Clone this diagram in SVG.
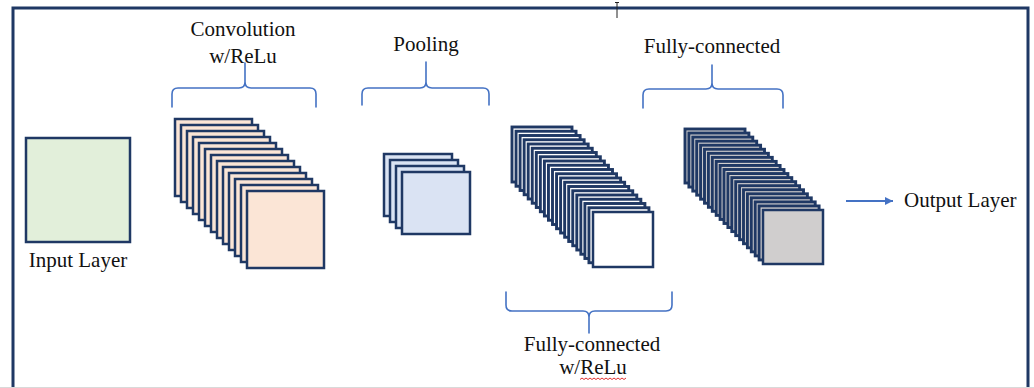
<svg xmlns="http://www.w3.org/2000/svg" width="1034" height="388" viewBox="0 0 1034 388">
  <defs>
    <style>
      .frame { fill: none; stroke: #1f3864; stroke-width: 3; }
      .lyr { stroke: #1f3864; stroke-width: 2.5; }
      .dense { stroke-width: 2.9; }
      .conv { fill: #fbe5d6; }
      .pool { fill: #dae3f3; }
      .fc1 { fill: #ffffff; }
      .fc2 { fill: #d0cece; }
      .inp { fill: #e2efda; }
      .brace { fill: none; stroke: #4472c4; stroke-width: 1.6; stroke-linecap: round; stroke-linejoin: round; }
      .lbl { font-family: "Liberation Serif", "Times New Roman", serif; font-size: 21px; fill: #111111; }
      .mid { text-anchor: middle; }
    </style>
    <marker id="arrow" viewBox="0 0 10 10" refX="10" refY="5" markerWidth="8" markerHeight="8" markerUnits="userSpaceOnUse" orient="auto">
      <path d="M0,0 L10,5 L0,10 Z" fill="#4472c4"/>
    </marker>
  </defs>

  <rect x="0" y="0" width="1034" height="388" fill="#ffffff"/>
  <path class="frame" d="M13,388 V8 H1028 V388"/>
  <line x1="0" y1="387.5" x2="1034" y2="387.5" stroke="#d9d9d9" stroke-width="1"/>
  <line x1="617" y1="2" x2="617" y2="18" stroke="#222" stroke-width="1"/>
  <line x1="615" y1="2.5" x2="619" y2="2.5" stroke="#222" stroke-width="1"/>

  <g id="input-layer">
    <rect class="lyr inp" x="26" y="138" width="104" height="104"/>
    <text class="lbl mid" x="78" y="267">Input Layer</text>
  </g>

  <g id="convolution">
    <rect class="lyr conv" x="175" y="119" width="77" height="77"/>
    <rect class="lyr conv" x="181" y="125" width="77" height="77"/>
    <rect class="lyr conv" x="187" y="131" width="77" height="77"/>
    <rect class="lyr conv" x="193" y="137" width="77" height="77"/>
    <rect class="lyr conv" x="199" y="143" width="77" height="77"/>
    <rect class="lyr conv" x="205" y="149" width="77" height="77"/>
    <rect class="lyr conv" x="211" y="155" width="77" height="77"/>
    <rect class="lyr conv" x="217" y="161" width="77" height="77"/>
    <rect class="lyr conv" x="223" y="167" width="77" height="77"/>
    <rect class="lyr conv" x="229" y="173" width="77" height="77"/>
    <rect class="lyr conv" x="235" y="179" width="77" height="77"/>
    <rect class="lyr conv" x="241" y="185" width="77" height="77"/>
    <rect class="lyr conv" x="247" y="191" width="77" height="77"/>
    <text class="lbl mid" x="243" y="36">Convolution</text>
    <text class="lbl mid" x="243" y="63">w/ReLu</text>
  </g>

  <g id="pooling">
    <rect class="lyr pool" x="384" y="154" width="68" height="62"/>
    <rect class="lyr pool" x="390" y="160" width="68" height="62"/>
    <rect class="lyr pool" x="396" y="166" width="68" height="62"/>
    <rect class="lyr pool" x="402" y="172" width="68" height="62"/>
    <text class="lbl mid" x="426" y="51">Pooling</text>
  </g>

  <g id="fully-connected-relu">
    <rect class="lyr dense fc1" x="512" y="127" width="60" height="55"/>
    <rect class="lyr dense fc1" x="516.05" y="131.25" width="60" height="55"/>
    <rect class="lyr dense fc1" x="520.1" y="135.5" width="60" height="55"/>
    <rect class="lyr dense fc1" x="524.15" y="139.75" width="60" height="55"/>
    <rect class="lyr dense fc1" x="528.2" y="144" width="60" height="55"/>
    <rect class="lyr dense fc1" x="532.25" y="148.25" width="60" height="55"/>
    <rect class="lyr dense fc1" x="536.3" y="152.5" width="60" height="55"/>
    <rect class="lyr dense fc1" x="540.35" y="156.75" width="60" height="55"/>
    <rect class="lyr dense fc1" x="544.4" y="161" width="60" height="55"/>
    <rect class="lyr dense fc1" x="548.45" y="165.25" width="60" height="55"/>
    <rect class="lyr dense fc1" x="552.5" y="169.5" width="60" height="55"/>
    <rect class="lyr dense fc1" x="556.55" y="173.75" width="60" height="55"/>
    <rect class="lyr dense fc1" x="560.6" y="178" width="60" height="55"/>
    <rect class="lyr dense fc1" x="564.65" y="182.25" width="60" height="55"/>
    <rect class="lyr dense fc1" x="568.7" y="186.5" width="60" height="55"/>
    <rect class="lyr dense fc1" x="572.75" y="190.75" width="60" height="55"/>
    <rect class="lyr dense fc1" x="576.8" y="195" width="60" height="55"/>
    <rect class="lyr dense fc1" x="580.85" y="199.25" width="60" height="55"/>
    <rect class="lyr dense fc1" x="584.9" y="203.5" width="60" height="55"/>
    <rect class="lyr dense fc1" x="588.95" y="207.75" width="60" height="55"/>
    <rect class="lyr fc1" x="593" y="212" width="60" height="55"/>
    <text class="lbl mid" x="592" y="351">Fully-connected</text>
    <text class="lbl mid" x="593" y="374">w/ReLu</text>
    <path d="M580,379.5 l2,-1.5 l2,1.5 l2,-1.5 l2,1.5 l2,-1.5 l2,1.5 l2,-1.5 l2,1.5 l2,-1.5 l2,1.5 l2,-1.5 l2,1.5 l2,-1.5 l2,1.5 l2,-1.5 l2,1.5 l2,-1.5 l2,1.5 l2,-1.5 l2,1.5 l2,-1.5 l2,1.5 l2,-1.5" fill="none" stroke="#e03030" stroke-width="1"/>
  </g>

  <g id="fully-connected">
    <rect class="lyr dense fc2" x="685" y="129" width="60" height="54"/>
    <rect class="lyr dense fc2" x="688.9" y="133.05" width="60" height="54"/>
    <rect class="lyr dense fc2" x="692.8" y="137.1" width="60" height="54"/>
    <rect class="lyr dense fc2" x="696.7" y="141.15" width="60" height="54"/>
    <rect class="lyr dense fc2" x="700.6" y="145.2" width="60" height="54"/>
    <rect class="lyr dense fc2" x="704.5" y="149.25" width="60" height="54"/>
    <rect class="lyr dense fc2" x="708.4" y="153.3" width="60" height="54"/>
    <rect class="lyr dense fc2" x="712.3" y="157.35" width="60" height="54"/>
    <rect class="lyr dense fc2" x="716.2" y="161.4" width="60" height="54"/>
    <rect class="lyr dense fc2" x="720.1" y="165.45" width="60" height="54"/>
    <rect class="lyr dense fc2" x="724" y="169.5" width="60" height="54"/>
    <rect class="lyr dense fc2" x="727.9" y="173.55" width="60" height="54"/>
    <rect class="lyr dense fc2" x="731.8" y="177.6" width="60" height="54"/>
    <rect class="lyr dense fc2" x="735.7" y="181.65" width="60" height="54"/>
    <rect class="lyr dense fc2" x="739.6" y="185.7" width="60" height="54"/>
    <rect class="lyr dense fc2" x="743.5" y="189.75" width="60" height="54"/>
    <rect class="lyr dense fc2" x="747.4" y="193.8" width="60" height="54"/>
    <rect class="lyr dense fc2" x="751.3" y="197.85" width="60" height="54"/>
    <rect class="lyr dense fc2" x="755.2" y="201.9" width="60" height="54"/>
    <rect class="lyr dense fc2" x="759.1" y="205.95" width="60" height="54"/>
    <rect class="lyr fc2" x="763" y="210" width="60" height="54"/>
    <text class="lbl mid" x="712" y="53">Fully-connected</text>
  </g>

  <g id="output-layer">
    <text class="lbl" x="904" y="207">Output Layer</text>
  </g>

  <g id="connectors">
    <path class="brace" d="M172,107 V94 Q172,88 178,88 H239 Q245,88 245,82 V63 M245,82 Q245,88 251,88 H310 Q316,88 316,94 V107"/>
    <path class="brace" d="M362,105 V94 Q362,88 368,88 H420 Q426,88 426,82 V62 M426,82 Q426,88 432,88 H483 Q489,88 489,94 V105"/>
    <path class="brace" d="M643,108 V95 Q643,89 649,89 H706 Q712,89 712,83 V65 M712,83 Q712,89 718,89 H777 Q783,89 783,95 V108"/>
    <path class="brace" d="M506,292 V305 Q506,311 512,311 H583 Q589,311 589,317 V333 M589,317 Q589,311 595,311 H666 Q672,311 672,305 V292"/>
    <line x1="846" y1="201" x2="893" y2="201" stroke="#4472c4" stroke-width="1.8" marker-end="url(#arrow)"/>
  </g>
</svg>
